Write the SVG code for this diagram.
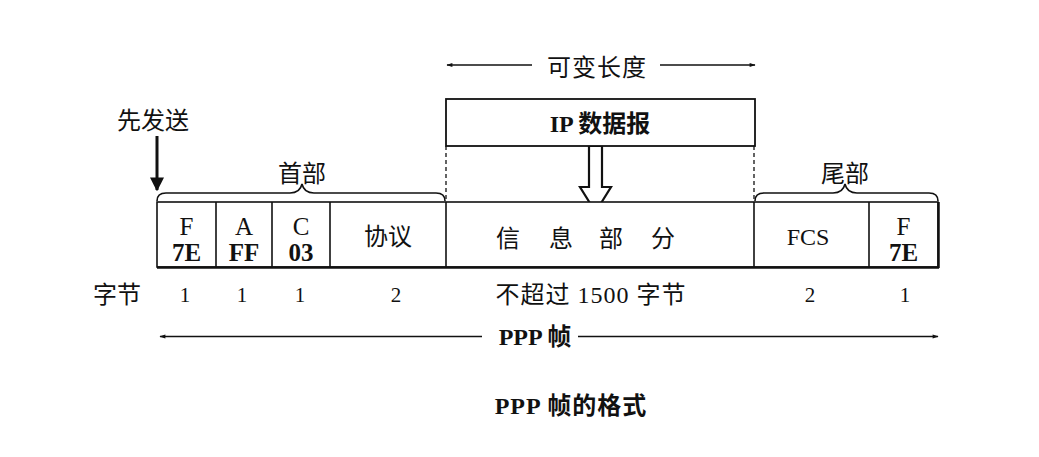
<svg xmlns="http://www.w3.org/2000/svg" width="1039" height="457" viewBox="0 0 1039 457">
<defs>
<style>
.t{font-family:"Liberation Serif","Noto Sans CJK SC",serif;font-size:24px;fill:#111;text-anchor:middle}
.b{font-weight:bold}
.n{font-size:21px}
.c{font-size:25px}
.ln{stroke:#111;stroke-width:1.6;fill:none}
.dash{stroke:#111;stroke-width:1.3;stroke-dasharray:4 3;fill:none}
</style>
<marker id="ah" viewBox="0 0 10 10" refX="9" refY="5" markerWidth="10" markerHeight="6" markerUnits="userSpaceOnUse" orient="auto-start-reverse">
<path d="M0,1.5 L10,5 L0,8.5 Z" fill="#111"/>
</marker>
<marker id="ah2" viewBox="0 0 10 10" refX="9" refY="5" markerWidth="14" markerHeight="22" markerUnits="userSpaceOnUse" orient="auto">
<path d="M0,0 L10,5 L0,10 Z" fill="#111"/>
</marker>
</defs>
<rect width="1039" height="457" fill="#fff"/>

<g id="connectors">
<line class="ln" x1="447" y1="65" x2="532" y2="65" marker-start="url(#ah)"/>
<line class="ln" x1="660" y1="65" x2="755" y2="65" marker-end="url(#ah)"/>
<line class="dash" x1="446" y1="146" x2="446" y2="202"/>
<line class="dash" x1="754" y1="146" x2="754" y2="202"/>
<polygon points="589,146 602,146 602,187 611,187 595.5,212 580,187 589,187" fill="#fff" stroke="#111" stroke-width="2.2" stroke-linejoin="miter"/>
<line x1="157" y1="136" x2="157" y2="190" stroke="#111" stroke-width="3" marker-end="url(#ah2)"/>
<line class="ln" x1="160" y1="336.5" x2="482" y2="336.5" marker-start="url(#ah)"/>
<line class="ln" x1="578" y1="336.5" x2="938" y2="336.5" marker-end="url(#ah)"/>
</g>

<g id="label-variable">
<text class="t" x="597" y="76" letter-spacing="1">可变长度</text>
</g>

<g id="ip-datagram">
<rect x="446" y="99" width="309" height="47" fill="#fff" stroke="#111" stroke-width="1.8"/>
<text class="t b" x="600" y="132">IP 数据报</text>
</g>

<g id="first-send">
<text class="t" x="153" y="129">先发送</text>
</g>

<g id="header-brace">
<path class="ln" d="M157,201 Q157,193 166,193 L290,193 Q300,193 302,184 Q304,193 314,193 L436,193 Q445,193 445,201"/>
<text class="t" x="302" y="182">首部</text>
</g>

<g id="trailer-brace">
<path class="ln" d="M755,201 Q755,193 764,193 L833,193 Q843,193 845,184 Q847,193 857,193 L929,193 Q938,193 938,201"/>
<text class="t" x="845" y="182">尾部</text>
</g>

<g id="frame">
<rect x="157" y="202" width="781" height="65" fill="#fff" stroke="#111" stroke-width="1.6"/>
<line x1="157" y1="267.5" x2="939" y2="267.5" stroke="#111" stroke-width="2.5"/>
<line x1="938.5" y1="202" x2="938.5" y2="268" stroke="#111" stroke-width="2.5"/>
</g>

<g id="cell-F1">
<line class="ln" x1="216" y1="202" x2="216" y2="267"/>
<text class="t c" x="186.5" y="235">F</text>
<text class="t c b" x="186.5" y="260.5">7E</text>
</g>
<g id="cell-A">
<line class="ln" x1="272" y1="202" x2="272" y2="267"/>
<text class="t c" x="244" y="235">A</text>
<text class="t c b" x="244" y="260.5">FF</text>
</g>
<g id="cell-C">
<line class="ln" x1="330" y1="202" x2="330" y2="267"/>
<text class="t c" x="301" y="235">C</text>
<text class="t c b" x="301" y="260.5">03</text>
</g>
<g id="cell-protocol">
<line class="ln" x1="446" y1="202" x2="446" y2="267"/>
<text class="t" x="388" y="245">协议</text>
</g>
<g id="cell-info">
<line class="ln" x1="754" y1="202" x2="754" y2="267"/>
<text class="t" x="508" y="247">信</text>
<text class="t" x="561" y="247">息</text>
<text class="t" x="611" y="247">部</text>
<text class="t" x="663" y="247">分</text>
</g>
<g id="cell-FCS">
<line class="ln" x1="869" y1="202" x2="869" y2="267"/>
<text class="t" x="808" y="245">FCS</text>
</g>
<g id="cell-F2">
<text class="t c" x="903.5" y="235">F</text>
<text class="t c b" x="903.5" y="260.5">7E</text>
</g>

<g id="bytes-row">
<text class="t" x="117" y="303">字节</text>
<text class="t n" x="185" y="302">1</text>
<text class="t n" x="242" y="302">1</text>
<text class="t n" x="300" y="302">1</text>
<text class="t n" x="396" y="302">2</text>
<text class="t" x="591" y="303" letter-spacing="1">不超过 1500 字节</text>
<text class="t n" x="810" y="302">2</text>
<text class="t n" x="905" y="302">1</text>
</g>

<g id="ppp-label">
<text class="t b" x="535" y="345" font-size="22">PPP 帧</text>
</g>

<g id="caption">
<text class="t b" x="571" y="414" font-size="26" letter-spacing="1">PPP 帧的格式</text>
</g>
</svg>
